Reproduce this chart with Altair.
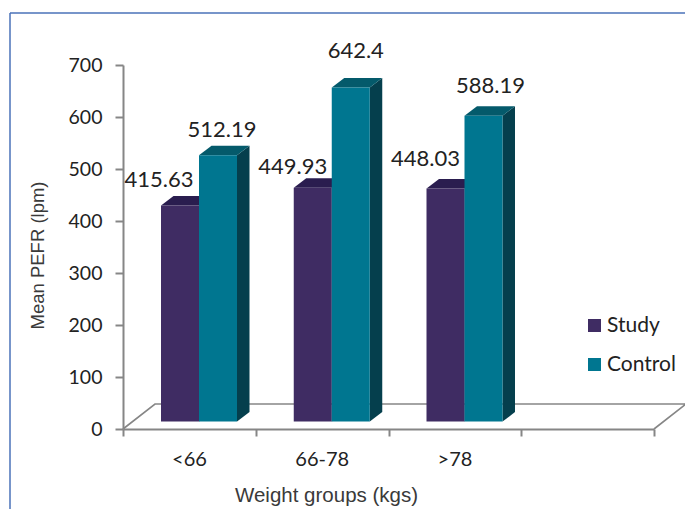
import altair as alt
import pandas as pd

# Chart values
groups = ["<66", "66-78", ">78"]
series = ["Study", "Control"]
study_values = [415.63, 449.93, 448.03]
control_values = [512.19, 642.4, 588.19]

# Plot geometry, in pixels
PLOT_W, PLOT_H = 531, 364
X_MAX, Y_MAX = 4, 700
PX_X = PLOT_W / X_MAX
PX_Y = PLOT_H / Y_MAX
BAR_W = 38 / PX_X          # bar width in category units
GROUP_START = 38 / PX_X    # gap from category edge to the first bar
LIFT = 7.4 / PX_Y          # bars stand slightly behind the front floor edge
DEPTH_X = 12.5 / PX_X      # extrusion of the bars
DEPTH_Y = 9.5 / PX_Y
FLOOR_X = 32 / PX_X        # extrusion of the floor
FLOOR_Y = 25 / PX_Y

FRONT = {"Study": "#3f2c63", "Control": "#007690"}
SIDE = {"Study": "#2b1d49", "Control": "#053f4d"}
TOP = {"Study": "#2a1d4f", "Control": "#045a6b"}

fronts, sides, tops = [], [], []
for g, name in enumerate(groups):
    for s, (label, vals) in enumerate(zip(series, (study_values, control_values))):
        v = vals[g]
        x0 = g + GROUP_START + s * BAR_W
        x1 = x0 + BAR_W
        bar = f"{label}-{name}"
        fronts.append(dict(series=label, group=name, value=v, top=v + LIFT, base=LIFT, x0=x0, x1=x1))
        sides += [
            dict(bar=bar, color=SIDE[label], x=x1, y=LIFT, y2=v + LIFT),
            dict(bar=bar, color=SIDE[label], x=x1 + DEPTH_X, y=LIFT + DEPTH_Y, y2=v + LIFT + DEPTH_Y),
        ]
        tops += [
            dict(bar=bar, color=TOP[label], y=v + LIFT, x=x0, x2=x1),
            dict(bar=bar, color=TOP[label], y=v + LIFT + DEPTH_Y, x=x0 + DEPTH_X, x2=x1 + DEPTH_X),
        ]

fronts = pd.DataFrame(fronts)
x_scale = alt.Scale(domain=[0, X_MAX], nice=False)
y_scale = alt.Scale(domain=[0, Y_MAX], nice=False)
FONT = "Lato"
AXIS_GREY = "#868686"

# Floor outline behind the bars
floor = pd.DataFrame({
    "x": [0, FLOOR_X, X_MAX + FLOOR_X, X_MAX],
    "y": [0, FLOOR_Y, FLOOR_Y, 0],
    "order": [0, 1, 2, 3],
})
floor_layer = alt.Chart(floor).mark_line(color=AXIS_GREY, strokeWidth=1.6).encode(
    x=alt.X("x:Q", scale=x_scale, axis=alt.Axis(
        values=[0, 1, 2, 3, 4], title="Weight groups (kgs)", grid=False,
        labelExpr="datum.value == 0 ? '<66' : datum.value == 1 ? '66-78' : datum.value == 2 ? '>78' : ''",
        labelOffset=66, labelFont=FONT, labelFontSize=20, labelColor="#222222",
        labelPadding=13, labelFlush=False, labelOverlap=False,
        domainColor=AXIS_GREY, domainWidth=2, tickColor=AXIS_GREY, tickWidth=2, tickSize=7,
        titleFont="Liberation Sans", titleFontSize=20.5, titleFontWeight="normal", titleColor="#3a3a3a",
        titleX=203, titleY=56,
    )),
    y=alt.Y("y:Q", scale=y_scale, axis=alt.Axis(
        values=list(range(0, 701, 100)), title="Mean PEFR (lpm)", grid=False,
        labelFont=FONT, labelFontSize=19.5, labelColor="#222222", labelPadding=13,
        domainColor=AXIS_GREY, domainWidth=2, tickColor=AXIS_GREY, tickWidth=2, tickSize=8,
        titleFont="Liberation Sans", titleFontSize=18.5, titleFontWeight="normal", titleColor="#3a3a3a",
        titleX=-76, titleY=190,
    )),
    order="order:Q",
)

side_layer = alt.Chart(pd.DataFrame(sides)).mark_area(orient="vertical").encode(
    x=alt.X("x:Q", scale=x_scale),
    y=alt.Y("y:Q", scale=y_scale),
    y2="y2:Q",
    detail="bar:N",
    fill=alt.Fill("color:N", scale=None),
)

top_layer = alt.Chart(pd.DataFrame(tops)).mark_area(orient="horizontal").encode(
    y=alt.Y("y:Q", scale=y_scale),
    x=alt.X("x:Q", scale=x_scale),
    x2="x2:Q",
    detail="bar:N",
    fill=alt.Fill("color:N", scale=None),
)

front_layer = alt.Chart(fronts).mark_bar(stroke=None).encode(
    x=alt.X("x0:Q", scale=x_scale),
    x2="x1:Q",
    y=alt.Y("top:Q", scale=y_scale),
    y2="base:Q",
    color=alt.Color(
        "series:N",
        scale=alt.Scale(domain=series, range=[FRONT[s] for s in series]),
        legend=alt.Legend(
            title=None, orient="none", legendX=461, legendY=250, symbolType="square",
            symbolSize=170, symbolStrokeWidth=0, labelFont=FONT, labelFontSize=21,
            labelColor="#222222", rowPadding=17, labelOffset=2,
        ),
    ),
)

# Value labels sit beside their bars; offsets are in pixels from the bar's top centre
label_shift = {
    ("Study", "<66"): (-21, -25),
    ("Control", "<66"): (4, -25),
    ("Study", "66-78"): (-20, -21),
    ("Control", "66-78"): (5, -37),
    ("Study", ">78"): (-20, -30),
    ("Control", ">78"): (7, -30),
}
label_layers = []
for (label, name), (dx, dy) in label_shift.items():
    row = fronts[(fronts.series == label) & (fronts.group == name)].assign(
        mid=lambda d: (d.x0 + d.x1) / 2
    )
    label_layers.append(
        alt.Chart(row).mark_text(
            dx=dx, dy=dy, font=FONT, fontSize=22, color="#222222", baseline="middle"
        ).encode(
            x=alt.X("mid:Q", scale=x_scale),
            y=alt.Y("top:Q", scale=y_scale),
            text=alt.Text("value:Q"),
        )
    )

# Thin blue frame along the top and left edges
frame_color = "#4a72b8"
frame_top = alt.Chart(pd.DataFrame({"a": [0]})).mark_rule(color=frame_color, strokeWidth=1.5).encode(
    x=alt.value(-113), x2=alt.value(562), y=alt.value(-52)
)
frame_left = alt.Chart(pd.DataFrame({"a": [0]})).mark_rule(color=frame_color, strokeWidth=1.5).encode(
    x=alt.value(-113), y=alt.value(-52), y2=alt.value(444)
)

chart = alt.layer(
    frame_top, frame_left, floor_layer, side_layer, top_layer, front_layer, *label_layers
).properties(
    width=PLOT_W,
    height=PLOT_H,
    padding={"left": 123, "top": 65, "right": 31, "bottom": 80},
    autosize=alt.AutoSizeParams(type="none"),
    background="white",
).configure_view(stroke=None)

chart.save("out.html", embed_options={"renderer": "svg", "actions": False})
